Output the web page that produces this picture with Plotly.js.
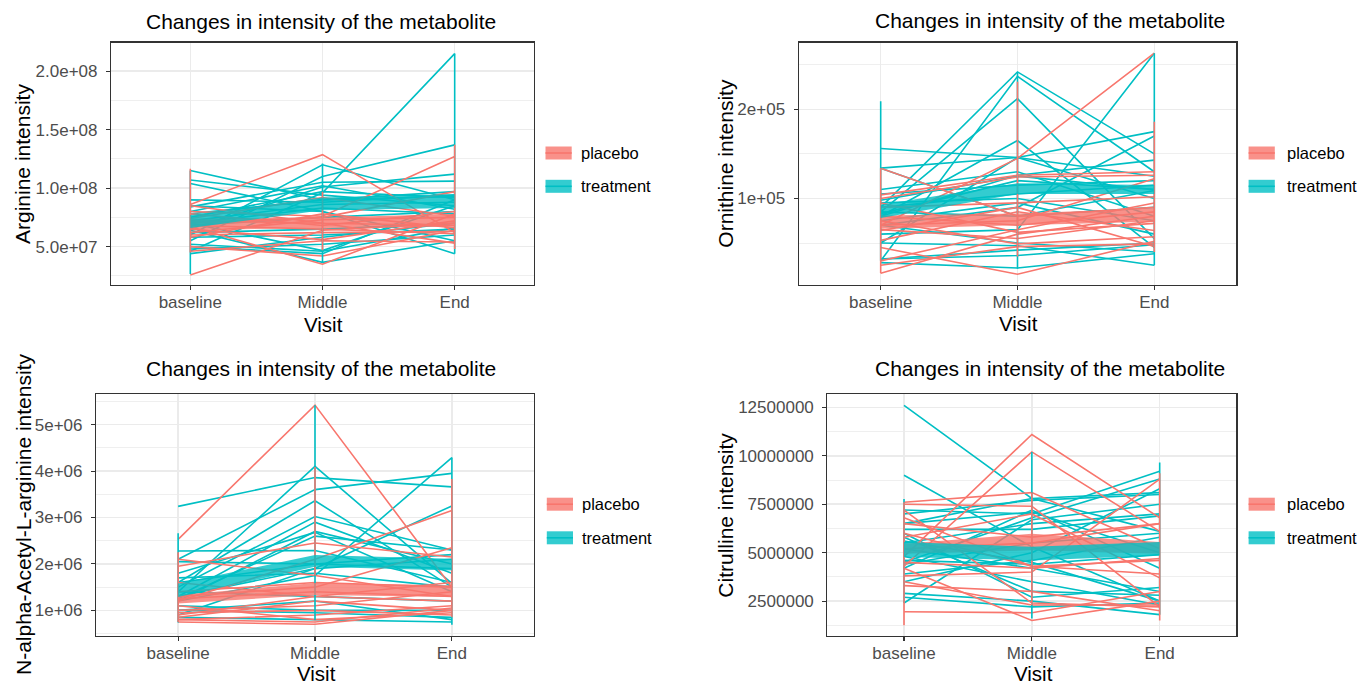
<!DOCTYPE html>
<html><head><meta charset="utf-8">
<script src="https://cdn.plot.ly/plotly-3.0.1.min.js"></script>
<style>html,body{margin:0;padding:0;background:#fff;}#chart{width:1361px;height:686px;}</style>
</head><body><div id="chart"></div>
<script>
// ---------- categories / labels ----------
const visits = ['baseline', 'Middle', 'End'];
const groups = ['placebo', 'treatment'];
const panelTitle = 'Changes in intensity of the metabolite';
const xTitle = 'Visit';
const yTitles = ['Arginine intensity', 'Ornithine intensity', 'N-alpha-Acetyl-L-arginine intensity', 'Citrulline intensity'];

// ---------- Panel 1: Arginine ----------
const arg_trt_baseline = [4.6e7,11.5e7,10.7e7,10.4e7,6.0e7,5.5e7,6.5e7,8.4e7,7.0e7,5.0e7,4.4e7,8.5e7,7.8e7,7.2e7,6.8e7,6.2e7,5.8e7,4.8e7,7.5e7,7.0e7,6.4e7,5.2e7,9.0e7,8.0e7];
const arg_trt_middle   = [9.6e7,9.0e7,9.4e7,8.0e7,12.0e7,11.0e7,10.1e7,10.5e7,4.66e7,4.4e7,5.8e7,8.0e7,9.0e7,8.6e7,7.5e7,6.5e7,6.0e7,5.2e7,9.7e7,8.3e7,3.66e7,4.6e7,8.8e7,10.2e7];
const arg_trt_end      = [21.5e7,9.7e7,8.5e7,5.5e7,9.0e7,13.7e7,11.2e7,10.6e7,8.5e7,9.0e7,7.0e7,4.4e7,9.3e7,8.8e7,8.0e7,7.0e7,6.5e7,6.0e7,9.2e7,7.8e7,5.5e7,6.6e7,9.4e7,8.2e7];
const arg_pla_baseline = [2.57e7,8.6e7,8.0e7,6.7e7,5.0e7,4.6e7,7.0e7,6.8e7,7.2e7,6.2e7,8.5e7,6.5e7,7.8e7,5.8e7,7.4e7,6.0e7];
const arg_pla_middle   = [6.4e7,12.86e7,7.6e7,3.5e7,4.2e7,5.5e7,7.5e7,6.5e7,7.0e7,7.3e7,7.0e7,5.6e7,6.8e7,7.8e7,9.2e7,6.2e7];
const arg_pla_end      = [7.0e7,6.2e7,12.7e7,7.8e7,6.4e7,5.4e7,9.7e7,6.1e7,5.3e7,7.5e7,6.8e7,7.2e7,8.0e7,6.6e7,7.6e7,6.3e7];
const arg_pla_band_lo = [6.4e7,6.6e7,6.7e7], arg_pla_band_hi = [7.4e7,7.5e7,7.8e7];
const arg_trt_band_lo = [6.6e7,8.1e7,8.3e7], arg_trt_band_hi = [7.7e7,9.2e7,9.5e7];
const arg_pla_vert_lo = [4.5e7,4.7e7,4.8e7], arg_pla_vert_hi = [11.66e7,9.7e7,13.7e7];
const arg_trt_vert_lo = [2.66e7,3.66e7,4.4e7], arg_trt_vert_hi = [11.5e7,12.1e7,21.5e7];
const arg_yrange = [1.72e7, 2.245e8];
const arg_tickvals = [5e7,1e8,1.5e8,2e8];
const arg_ticktext = ['5.0e+07','1.0e+08','1.5e+08','2.0e+08'];
const arg_minor = [2.5e7,7.5e7,1.25e8,1.75e8];

// ---------- Panel 2: Ornithine ----------
const orn_trt_baseline = [3.0e4,9.0e4,8.5e4,8.0e4,15.6e4,13.4e4,13.4e4,6.0e4,5.0e4,7.0e4,3.2e4,3.2e4,7.0e4,8.3e4,9.0e4,8.5e4,8.0e4,5.0e4,2.8e4,7.5e4,11.0e4,9.5e4,10.5e4,9.8e4];
const orn_trt_middle   = [23.7e4,24.2e4,21.2e4,16.5e4,14.6e4,14.6e4,8.0e4,6.5e4,14.6e4,9.0e4,3.6e4,4.2e4,5.0e4,12.0e4,10.5e4,8.0e4,12.6e4,4.7e4,2.2e4,9.5e4,13.0e4,10.0e4,11.5e4,12.5e4];
const orn_trt_end      = [13.0e4,15.0e4,5.5e4,4.5e4,12.5e4,10.0e4,10.9e4,26.3e4,17.5e4,17.0e4,4.8e4,5.0e4,4.0e4,11.0e4,11.5e4,9.0e4,14.3e4,2.5e4,3.8e4,6.0e4,8.0e4,7.5e4,12.0e4,11.0e4];
const orn_pla_baseline = [13.4e4,10.0e4,10.4e4,7.0e4,1.6e4,3.0e4,7.0e4,6.5e4,9.0e4,4.5e4,8.0e4,5.3e4,7.5e4,9.5e4,6.4e4,2.5e4];
const orn_pla_middle   = [8.0e4,12.4e4,12.6e4,14.5e4,6.0e4,6.5e4,7.5e4,5.5e4,9.5e4,1.5e4,7.0e4,8.5e4,4.9e4,6.2e4,9.0e4,4.6e4];
const orn_pla_end      = [9.0e4,12.6e4,13.0e4,26.3e4,8.0e4,9.5e4,12.2e4,7.5e4,10.2e4,5.2e4,8.5e4,6.4e4,5.7e4,7.2e4,4.6e4,4.9e4];
const orn_pla_band_lo = [6.6e4,7.0e4,7.4e4], orn_pla_band_hi = [8.1e4,8.3e4,8.9e4];
const orn_trt_band_lo = [7.8e4,10.5e4,10.5e4], orn_trt_band_hi = [9.3e4,11.7e4,11.5e4];
const orn_pla_vert_lo = [1.6e4,3.5e4,4.0e4], orn_pla_vert_hi = [13.4e4,23.1e4,18.6e4];
const orn_trt_vert_lo = [3.0e4,2.1e4,2.5e4], orn_trt_vert_hi = [20.9e4,24.2e4,26.3e4];
const orn_yrange = [2.9e3, 2.75e5];
const orn_tickvals = [1e5,2e5];
const orn_ticktext = ['1e+05','2e+05'];
const orn_minor = [5e4,1.5e5,2.5e5];

// ---------- Panel 3: N-alpha-Acetyl-L-arginine ----------
const naa_trt_baseline = [3.24e6,2.28e6,2.1e6,1.6e6,1.5e6,1.3e6,1.2e6,1.8e6,1.4e6,1.2e6,0.9e6,1.6e6,1.0e6,0.85e6,1.4e6,1.7e6,1.1e6,2.05e6,1.3e6,1.25e6,1.0e6];
const naa_trt_middle   = [3.86e6,2.29e6,3.6e6,3.36e6,3.02e6,2.9e6,2.7e6,2.68e6,4.1e6,1.75e6,1.9e6,2.0e6,1.2e6,0.8e6,1.3e6,1.8e6,1.0e6,2.0e6,1.9e6,2.6e6,0.95e6];
const naa_trt_end      = [3.66e6,1.6e6,3.95e6,1.5e6,2.3e6,1.8e6,2.0e6,1.4e6,1.58e6,4.29e6,3.25e6,1.9e6,0.8e6,0.75e6,1.2e6,1.5e6,1.0e6,2.2e6,2.1e6,2.3e6,0.85e6];
const naa_pla_baseline = [2.53e6,2.1e6,1.95e6,1.2e6,1.3e6,0.9e6,0.75e6,0.8e6,1.0e6,0.85e6,1.4e6,1.1e6,1.25e6,0.95e6,1.6e6,0.8e6];
const naa_pla_middle   = [5.42e6,1.75e6,2.45e6,2.1e6,1.5e6,1.3e6,0.7e6,0.9e6,1.1e6,1.2e6,1.6e6,0.8e6,1.4e6,1.0e6,1.3e6,0.75e6];
const naa_pla_end      = [1.5e6,1.3e6,2.15e6,3.15e6,2.35e6,1.6e6,1.0e6,1.1e6,1.4e6,1.0e6,1.5e6,0.95e6,1.3e6,0.9e6,1.2e6,1.05e6];
const naa_pla_band_lo = [1.15e6,1.33e6,1.29e6], naa_pla_band_hi = [1.33e6,1.59e6,1.54e6];
const naa_trt_band_lo = [1.29e6,1.94e6,1.86e6], naa_trt_band_hi = [1.58e6,2.19e6,2.11e6];
const naa_pla_vert_lo = [0.75e6,1.75e6,0.85e6], naa_pla_vert_hi = [2.25e6,4.09e6,3.83e6];
const naa_trt_vert_lo = [0.74e6,0.79e6,0.69e6], naa_trt_vert_hi = [2.66e6,5.42e6,4.29e6];
const naa_yrange = [4.48e5, 5.66e6];
const naa_tickvals = [1e6,2e6,3e6,4e6,5e6];
const naa_ticktext = ['1e+06','2e+06','3e+06','4e+06','5e+06'];
const naa_minor = [5e5,1.5e6,2.5e6,3.5e6,4.5e6,5.5e6];

// ---------- Panel 4: Citrulline ----------
const cit_trt_baseline = [12.6e6,9.0e6,7.2e6,6.5e6,4.5e6,3.5e6,6.2e6,5.6e6,5.8e6,2.4e6,2.7e6,2.9e6,6.5e6,5.2e6,4.8e6,4.4e6,5.5e6,6.0e6,3.9e6,4.2e6,7.0e6,4.6e6];
const cit_trt_middle   = [7.8e6,5.3e6,7.0e6,7.8e6,6.8e6,5.0e6,6.2e6,4.5e6,3.0e6,6.7e6,2.2e6,2.5e6,7.1e6,4.2e6,3.5e6,5.5e6,6.5e6,2.7e6,4.6e6,7.2e6,7.7e6,4.4e6];
const cit_trt_end      = [6.1e6,2.5e6,9.2e6,8.1e6,8.8e6,8.3e6,6.9e6,2.5e6,2.8e6,7.5e6,2.4e6,1.8e6,5.0e6,3.0e6,2.3e6,6.0e6,7.0e6,3.2e6,5.8e6,4.2e6,8.0e6,4.9e6];
const cit_pla_baseline = [4.8e6,4.3e6,7.6e6,7.5e6,1.95e6,3.5e6,6.0e6,4.5e6,3.8e6,5.8e6,4.2e6,6.5e6,6.8e6,3.3e6,5.2e6,7.2e6];
const cit_pla_middle   = [11.1e6,10.2e6,8.1e6,7.4e6,1.9e6,2.3e6,4.3e6,4.2e6,4.0e6,7.0e6,1.5e6,5.8e6,4.3e6,3.0e6,5.5e6,2.4e6];
const cit_pla_end      = [6.8e6,6.1e6,5.2e6,2.2e6,3.0e6,2.3e6,4.6e6,4.7e6,8.8e6,3.7e6,2.5e6,6.5e6,3.9e6,2.0e6,6.5e6,2.2e6];
const cit_pla_band_lo = [4.95e6,5.12e6,4.95e6], cit_pla_band_hi = [5.46e6,5.98e6,5.55e6];
const cit_trt_band_lo = [4.78e6,4.6e6,4.86e6], cit_trt_band_hi = [5.55e6,5.3e6,5.55e6];
const cit_pla_vert_lo = [1.25e6,2.3e6,1.5e6], cit_pla_vert_hi = [7.6e6,8.1e6,9.1e6];
const cit_trt_vert_lo = [2.4e6,1.6e6,1.8e6], cit_trt_vert_hi = [7.77e6,10.2e6,9.66e6];
const cit_yrange = [6.99e5, 1.319e7];
const cit_tickvals = [2.5e6,5e6,7.5e6,1e7,1.25e7];
const cit_ticktext = ['2500000','5000000','7500000','10000000','12500000'];
const cit_minor = [1.25e6,3.75e6,6.25e6,8.75e6,1.125e7];

// ---------- styling ----------
const W = 1361, H = 686;
const FONT = 'Liberation Sans, Arial, Helvetica, sans-serif';
const colLine = {placebo: '#F8766D', treatment: '#00BFC4'};
const colBand = {placebo: 'rgba(248,118,109,0.8)', treatment: 'rgba(0,191,196,0.8)'};
const px = v => v / W;
const py = v => 1 - v / H;

const panels = [
  {p:{b:arg_pla_baseline,m:arg_pla_middle,e:arg_pla_end,lo:arg_pla_band_lo,hi:arg_pla_band_hi,vlo:arg_pla_vert_lo,vhi:arg_pla_vert_hi},
   t:{b:arg_trt_baseline,m:arg_trt_middle,e:arg_trt_end,lo:arg_trt_band_lo,hi:arg_trt_band_hi,vlo:arg_trt_vert_lo,vhi:arg_trt_vert_hi},
   yr:arg_yrange, tv:arg_tickvals, tt:arg_ticktext, mv:arg_minor,
   dom:{x:[111,534], y:[42.5,285]}, title:[321.3,21.5], xt:[323.3,324.5], yt:[23,164],
   leg:{kx:[545.5,571.7], ky:[153,186.3], tx:580}},
  {p:{b:orn_pla_baseline,m:orn_pla_middle,e:orn_pla_end,lo:orn_pla_band_lo,hi:orn_pla_band_hi,vlo:orn_pla_vert_lo,vhi:orn_pla_vert_hi},
   t:{b:orn_trt_baseline,m:orn_trt_middle,e:orn_trt_end,lo:orn_trt_band_lo,hi:orn_trt_band_hi,vlo:orn_trt_vert_lo,vhi:orn_trt_vert_hi},
   yr:orn_yrange, tv:orn_tickvals, tt:orn_ticktext, mv:orn_minor,
   dom:{x:[798.6,1236.4], y:[42.5,285]}, title:[1049.9,20.5], xt:[1018,324], yt:[724.7,163],
   leg:{kx:[1248.6,1274.8], ky:[153,186.3], tx:1285.5}},
  {p:{b:naa_pla_baseline,m:naa_pla_middle,e:naa_pla_end,lo:naa_pla_band_lo,hi:naa_pla_band_hi,vlo:naa_pla_vert_lo,vhi:naa_pla_vert_hi},
   t:{b:naa_trt_baseline,m:naa_trt_middle,e:naa_trt_end,lo:naa_trt_band_lo,hi:naa_trt_band_hi,vlo:naa_trt_vert_lo,vhi:naa_trt_vert_hi},
   yr:naa_yrange, tv:naa_tickvals, tt:naa_ticktext, mv:naa_minor,
   dom:{x:[96,534], y:[394,636]}, title:[321.1,368.5], xt:[316,673.5], yt:[23,515],
   leg:{kx:[546.8,573], ky:[504.2,537.8], tx:581}},
  {p:{b:cit_pla_baseline,m:cit_pla_middle,e:cit_pla_end,lo:cit_pla_band_lo,hi:cit_pla_band_hi,vlo:cit_pla_vert_lo,vhi:cit_pla_vert_hi},
   t:{b:cit_trt_baseline,m:cit_trt_middle,e:cit_trt_end,lo:cit_trt_band_lo,hi:cit_trt_band_hi,vlo:cit_trt_vert_lo,vhi:cit_trt_vert_hi},
   yr:cit_yrange, tv:cit_tickvals, tt:cit_ticktext, mv:cit_minor,
   dom:{x:[827.3,1236.4], y:[394,636]}, title:[1049.9,368.5], xt:[1033,673.5], yt:[724.7,515],
   leg:{kx:[1248.6,1274.8], ky:[504.2,537.8], tx:1285.5}}
];

const traces = [];
const layout = {
  width: W, height: H, autosize: false,
  margin: {l:0, r:0, t:0, b:0, pad:0},
  paper_bgcolor: '#FFFFFF', plot_bgcolor: '#FFFFFF',
  font: {family: FONT, color: '#000000'},
  showlegend: false, hovermode: false,
  annotations: [], shapes: []
};

function spaghetti(g, xa, ya, grp) {
  const x = [], y = [];
  for (let i = 0; i < g.b.length; i++) {
    x.push(visits[0], visits[1], visits[2], null);
    y.push(g.b[i], g.m[i], g.e[i], null);
  }
  return {type:'scatter', mode:'lines', x, y, xaxis:xa, yaxis:ya, connectgaps:false,
          line:{color:colLine[grp], width:1.6}, hoverinfo:'skip', showlegend:false};
}
function verticals(g, xa, ya, grp) {
  const x = [], y = [];
  for (let j = 0; j < visits.length; j++) {
    x.push(visits[j], visits[j], null);
    y.push(g.vlo[j], g.vhi[j], null);
  }
  return {type:'scatter', mode:'lines', x, y, xaxis:xa, yaxis:ya, connectgaps:false,
          line:{color:colLine[grp], width:1.6}, hoverinfo:'skip', showlegend:false};
}
function band(g, xa, ya, grp) {
  return {type:'scatter', mode:'lines', xaxis:xa, yaxis:ya,
          x: visits.concat(visits.slice().reverse()),
          y: g.lo.concat(g.hi.slice().reverse()),
          fill:'toself', fillcolor:colBand[grp], line:{width:0, color:colBand[grp]},
          hoverinfo:'skip', showlegend:false};
}

panels.forEach((P, k) => {
  const n = k === 0 ? '' : String(k + 1);
  const xa = 'x' + n, ya = 'y' + n;
  traces.push(spaghetti(P.t, xa, ya, 'treatment'));
  traces.push(spaghetti(P.p, xa, ya, 'placebo'));
  traces.push(verticals(P.t, xa, ya, 'treatment'));
  traces.push(verticals(P.p, xa, ya, 'placebo'));
  traces.push(band(P.p, xa, ya, 'placebo'));
  traces.push(band(P.t, xa, ya, 'treatment'));

  layout['xaxis' + n] = {
    domain: [px(P.dom.x[0]), px(P.dom.x[1])], anchor: ya,
    type: 'category', categoryorder: 'array', categoryarray: visits,
    range: [-0.6, 2.6], fixedrange: true,
    showgrid: true, gridcolor: '#EBEBEB', gridwidth: 1.6, zeroline: false,
    showline: true, mirror: true, linecolor: '#333333', linewidth: 1.1,
    ticks: 'outside', ticklen: 4, tickwidth: 1.1, tickcolor: '#333333',
    ticklabelstandoff: -3,
    tickfont: {family: FONT, size: 17, color: '#4D4D4D'}
  };
  layout['yaxis' + n] = {
    domain: [py(P.dom.y[1]), py(P.dom.y[0])], anchor: xa,
    range: P.yr, fixedrange: true,
    tickmode: 'array', tickvals: P.tv, ticktext: P.tt,
    showgrid: true, gridcolor: '#EBEBEB', gridwidth: 1.6, zeroline: false,
    showline: true, mirror: true, linecolor: '#333333', linewidth: 1.1,
    ticks: 'outside', ticklen: 4, tickwidth: 1.1, tickcolor: '#333333',
    ticklabelstandoff: 5,
    tickfont: {family: FONT, size: 17, color: '#4D4D4D'},
    minor: {tickmode: 'array', tickvals: P.mv, showgrid: true, gridcolor: '#EBEBEB', gridwidth: 0.8, ticks: ''}
  };

  layout.annotations.push(
    {xref:'paper', yref:'paper', x:px(P.title[0]), y:py(P.title[1]), text:panelTitle, showarrow:false,
     xanchor:'center', yanchor:'middle', font:{family:FONT, size:21, color:'#000000'}},
    {xref:'paper', yref:'paper', x:px(P.xt[0]), y:py(P.xt[1]), text:xTitle, showarrow:false,
     xanchor:'center', yanchor:'middle', borderpad:0, font:{family:FONT, size:20.5, color:'#000000'}},
    {xref:'paper', yref:'paper', x:px(P.yt[0]), y:py(P.yt[1]), text:yTitles[k], showarrow:false, textangle:-90,
     xanchor:'center', yanchor:'middle', font:{family:FONT, size:21, color:'#000000'}}
  );
  groups.forEach((grp, gi) => {
    const cy = P.leg.ky[gi];
    layout.shapes.push(
      {type:'rect', xref:'paper', yref:'paper', x0:px(P.leg.kx[0]), x1:px(P.leg.kx[1]), y0:py(cy - 6.5), y1:py(cy + 6.5),
       fillcolor: colBand[grp], line:{width:0}},
      {type:'line', xref:'paper', yref:'paper', x0:px(P.leg.kx[0]), x1:px(P.leg.kx[1]), y0:py(cy), y1:py(cy),
       line:{color: colLine[grp], width:1.6}}
    );
    layout.annotations.push(
      {xref:'paper', yref:'paper', x:px(P.leg.tx), y:py(cy), text:grp, showarrow:false, borderpad:0,
       xanchor:'left', yanchor:'middle', font:{family:FONT, size:16.5, color:'#000000'}}
    );
  });
});

Plotly.newPlot('chart', traces, layout, {staticPlot: true, displayModeBar: false});
</script>
</body></html>
